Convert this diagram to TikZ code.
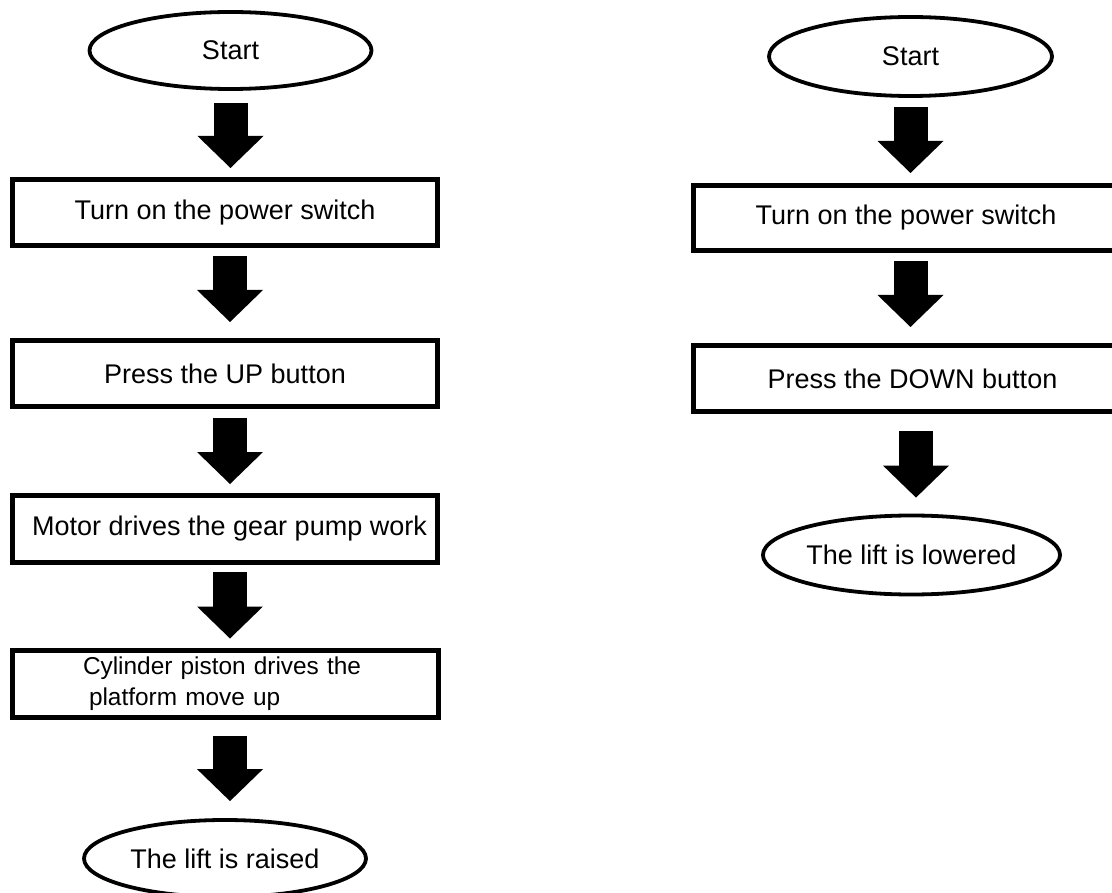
\documentclass[tikz,border=0pt]{standalone}
\usepackage{fontspec}
\setmainfont{Liberation Sans}
\usetikzlibrary{shapes.geometric,arrows.meta}
\tikzset{
  stepbox/.style={draw=black, line width=5pt, rectangle, minimum width=425pt, minimum height=66pt, inner sep=0pt, font=\fontsize{27}{32}\selectfont},
  termnode/.style={draw=black, line width=3.8pt, ellipse, minimum width=282pt, minimum height=77pt, inner sep=0pt, font=\fontsize{27}{32}\selectfont},
  bigarrow/.style={draw=black, line width=34pt, -{Triangle[width=66pt,length=32pt,line width=0pt]}}
}
\begin{document}
\begin{tikzpicture}[x=1pt,y=-1pt]
\useasboundingbox (0,0) rectangle (1112,893);
\fill[white] (0,0) rectangle (1112,893);
% left column
\node[termnode] (s1) at (230.5,50.5) {\raisebox{-2pt}{Start}\hspace{20pt}};
\node[stepbox] (b1) at (225,212.5) {Turn on the power switch\hspace{4pt}};
\node[stepbox] (b2) at (225,373.5) {Press the UP button\hspace{16pt}};
\node[stepbox, minimum height=67pt] (b3) at (225,529) {\hspace{9pt}Motor drives the gear pump work};
\node[stepbox, minimum height=67pt, text width=284pt, inner xsep=71pt, align=left, font=\fontsize{24.4}{31}\selectfont] (b4) at (225,683.5) {\raisebox{-3pt}{Cylinder piston drives the}\\\hspace*{6pt}\raisebox{-3pt}{platform move up}};
\node[termnode] (e1) at (225,858.5) {The lift is raised\hspace{3pt}};
\draw[bigarrow] ([yshift=-12pt]s1.south) -- ([xshift=5.5pt,yshift=9pt]b1.north);
\draw[bigarrow] ([xshift=5pt,yshift=-8pt]b1.south) -- ([xshift=5pt,yshift=16pt]b2.north);
\draw[bigarrow] ([xshift=5pt,yshift=-9pt]b2.south) -- ([xshift=5pt,yshift=9pt]b3.north);
\draw[bigarrow] ([xshift=5pt,yshift=-7pt]b3.south) -- ([xshift=5pt,yshift=9pt]b4.north);
\draw[bigarrow] ([xshift=5pt,yshift=-16pt]b4.south) -- ([xshift=5pt,yshift=17pt]e1.north);
% right column
\node[termnode, minimum width=283pt, minimum height=79pt] (rs) at (910.5,56.5) {Start\hspace{20pt}};
\node[stepbox, minimum height=65pt] (rb1) at (906,218) {Turn on the power switch\hspace{4pt}};
\node[stepbox] (rb2) at (906,378.5) {\hspace{13pt}Press the DOWN button};
\node[termnode, minimum width=283pt, minimum height=79pt] (re) at (911.5,555) {The lift is lowered\hspace{4pt}};
\draw[bigarrow] ([yshift=-9pt]rs.south) -- ([xshift=4.5pt,yshift=10pt]rb1.north);
\draw[bigarrow] ([xshift=4.5pt,yshift=-8pt]rb1.south) -- ([xshift=4.5pt,yshift=16pt]rb2.north);
\draw[bigarrow] ([xshift=10pt,yshift=-17pt]rb2.south) -- ([xshift=4.5pt,yshift=16pt]re.north);
\end{tikzpicture}
\end{document}
